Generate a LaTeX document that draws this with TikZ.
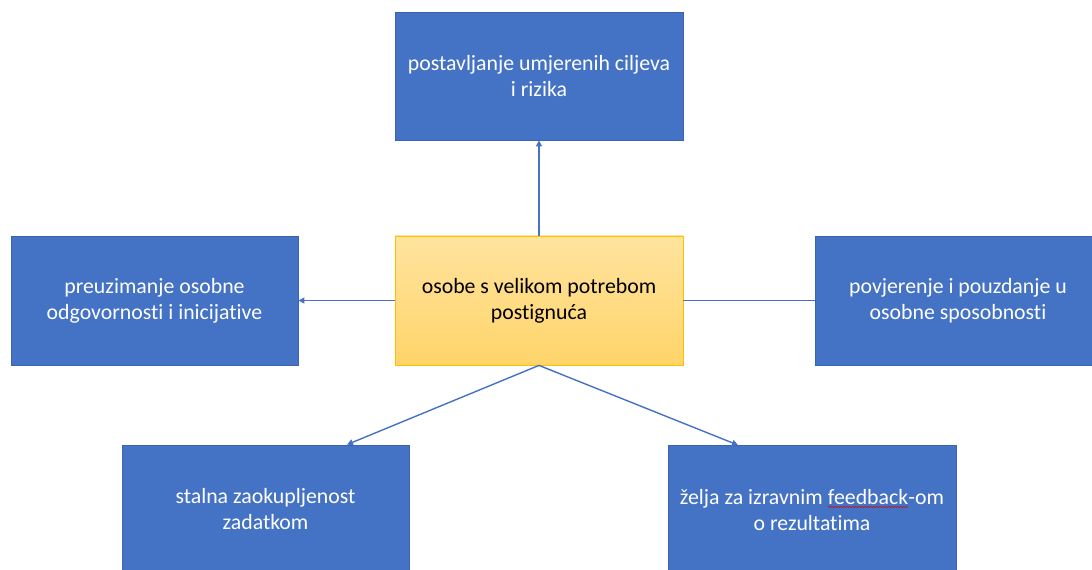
\documentclass[tikz,border=0pt]{standalone}
\usepackage{fontspec}
\setmainfont[Ligatures=NoCommon]{Carlito}
\usepackage{xcolor}
\usetikzlibrary{arrows.meta,decorations.pathmorphing}
\definecolor{boxblue}{HTML}{4472C4}
\definecolor{boxedge}{HTML}{3A64AE}
\definecolor{hubtop}{HTML}{FFE49E}
\definecolor{hubbottom}{HTML}{FFD46A}
\definecolor{hubedge}{HTML}{FFC000}
\newcommand{\spellwave}[1]{\tikz[baseline=(w.base)]{\node[inner sep=0pt,outer sep=0pt,minimum width=0pt,minimum height=0pt,draw=none,fill=none,text=white] (w) {#1};
	\draw[red!85!black,line width=0.5pt,decorate,decoration={snake,amplitude=0.7pt,segment length=3pt}] ([yshift=-2.5pt]w.base west) -- ([yshift=-2.5pt]w.base east);}}

\begin{document}
\begin{tikzpicture}[x=1pt,y=1pt,
	font=\fontsize{21.8}{26}\selectfont,
	trait/.style={draw=boxedge,line width=0.8pt,fill=boxblue,text=white,align=center,minimum width=287pt,minimum height=129pt,inner sep=0pt},
	hub/.style={draw=hubedge,line width=0.8pt,top color=hubtop,bottom color=hubbottom,text=black,align=center,minimum width=288pt,minimum height=129pt,inner sep=0pt},
	link/.style={draw=boxblue,line width=1.4pt},
	>={Triangle[length=6pt,width=6pt]}]
	\useasboundingbox (0,0) rectangle (1092,570);

	%BOXES
	\node[hub] (hub) at (539,269.5) {osobe s velikom potrebom\\postignuća};
	\node[trait,minimum width=288pt,minimum height=128pt] (goals) at (539,494) {postavljanje umjerenih ciljeva\\i rizika};
	\node[trait] (resp) at (154.5,269.5) {preuzimanje osobne\\odgovornosti i inicijative};
	\node[trait,minimum width=286pt] (trust) at (958,269.5) {povjerenje i pouzdanje u\\osobne sposobnosti};
	\node[trait] (task) at (265.5,60.5) {stalna zaokupljenost\\zadatkom};
	\node[trait,minimum width=288pt] (feed) at (812,60) {želja za izravnim \spellwave{feedback}-om\\o rezultatima};

	%ARROWS
	\draw[link,->] (hub.north) -- (goals.south);
	\draw[link,->] (hub.west) -- (resp.east);
	\draw[link] (hub.east) -- (trust.west);
	\draw[link,->] (hub.south) -- ([xshift=81.5pt]task.north);
	\draw[link,->] (hub.south) -- ([xshift=-74pt]feed.north);
\end{tikzpicture}
\end{document}
